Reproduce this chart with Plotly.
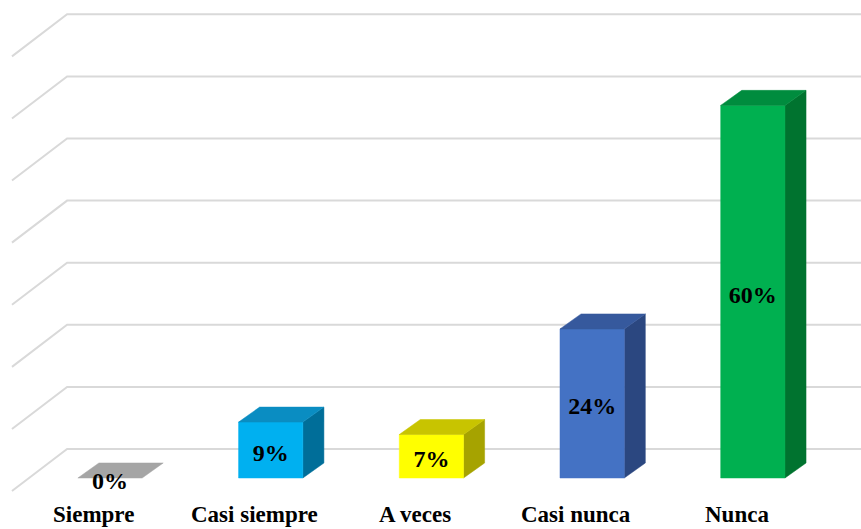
import plotly.graph_objects as go

# ---- data ----
categories = ["Siempre", "Casi siempre", "A veces", "Casi nunca", "Nunca"]
values = [0, 9, 7, 24, 60]
labels = ["0%", "9%", "7%", "24%", "60%"]
front_colors = ["#A5A5A5", "#00B0F0", "#FFFF00", "#4472C4", "#00B050"]
top_colors = ["#A5A5A5", "#0A8DC2", "#C8C400", "#36599D", "#008C3E"]
side_colors = ["#8A8A8A", "#006E99", "#A6A300", "#2B4780", "#00732F"]
grid_values = [0, 10, 20, 30, 40, 50, 60, 70]

# ---- 3D projection styling (in axis units) ----
HALF_W = 0.2          # half bar width (category units)
BAR_DX, BAR_DY = 0.131, 2.42   # bar depth offset
BACK_DX, BACK_DY = 0.243, 4.67  # offset from bar front plane to back wall
FRONT_DX, FRONT_DY = -0.10, -2.1  # offset to floor front edge
LEFT = -0.51
RIGHT = 4.9
GRID_COLOR = "#D9D9D9"

fig = go.Figure()

# gridlines: back wall horizontals and left wall diagonals
for g in grid_values:
    fig.add_trace(go.Scatter(
        x=[LEFT + FRONT_DX, LEFT + BACK_DX, RIGHT],
        y=[g + FRONT_DY, g + BACK_DY, g + BACK_DY],
        mode="lines", line=dict(color=GRID_COLOR, width=2),
        hoverinfo="skip", showlegend=False))

def poly(xs, ys, color):
    fig.add_trace(go.Scatter(
        x=xs + [xs[0]], y=ys + [ys[0]], mode="lines", fill="toself",
        fillcolor=color, line=dict(color=color, width=0.5),
        hoverinfo="skip", showlegend=False))

for i, v in enumerate(values):
    x0, x1 = i - HALF_W, i + HALF_W
    if v > 0:
        # side face
        poly([x1, x1 + BAR_DX, x1 + BAR_DX, x1],
             [0, BAR_DY, v + BAR_DY, v], side_colors[i])
        # front face
        poly([x0, x1, x1, x0], [0, 0, v, v], front_colors[i])
    # top face
    poly([x0, x1, x1 + BAR_DX, x0 + BAR_DX],
         [v, v, v + BAR_DY, v + BAR_DY], top_colors[i])

# data labels
fig.add_trace(go.Scatter(
    x=list(range(len(values))),
    y=[v / 2 - 0.8 for v in values],
    mode="text", text=labels, textposition="middle center",
    texttemplate="<b>%{text}</b>",
    textfont=dict(family="Liberation Serif", size=24, color="#000000"),
    hoverinfo="skip", showlegend=False))

# category labels
for i, c in enumerate(categories):
    fig.add_annotation(
        x=i + FRONT_DX, y=-5.8, text="<b>" + c + "</b>", showarrow=False,
        xanchor="center", yanchor="middle",
        font=dict(family="Liberation Serif", size=23, color="#000000"))

fig.update_layout(
    width=861, height=529,
    margin=dict(l=0, r=0, t=0, b=0),
    paper_bgcolor="white", plot_bgcolor="white",
    showlegend=False,
    xaxis=dict(range=[-0.6845, 4.673], visible=False, fixedrange=True),
    yaxis=dict(range=[-8.21, 76.97], visible=False, fixedrange=True),
)

fig.write_html("out.html")
